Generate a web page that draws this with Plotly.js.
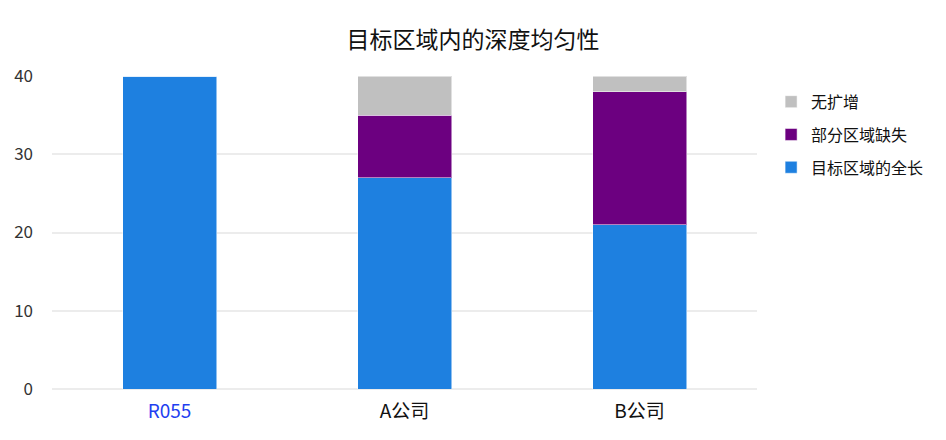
<!DOCTYPE html>
<html><head><meta charset="utf-8">
<script src="https://cdn.plot.ly/plotly-3.0.1.min.js"></script>
<style>html,body{margin:0;padding:0;background:#fff}#chart{width:946px;height:440px}</style>
</head><body><div id="chart"></div>
<script>
const categories = ['R055', 'A公司', 'B公司'];
const fullLength = [40, 27, 21];
const partialMissing = [0, 8, 17];
const noAmplification = [0, 5, 2];
const seriesNames = ['目标区域的全长', '部分区域缺失', '无扩增'];
const tickLabels = ['<span style="color:#1f3ff0">R055</span>', 'A公司', 'B公司'];

const lineStyle = {color: 'rgba(255,255,255,0.5)', width: 1};
const traces = [
  {type: 'bar', name: seriesNames[0], legendgroup: 'g1', legendrank: 3, x: categories, y: fullLength, marker: {color: '#1e80e0', line: lineStyle}},
  {type: 'bar', name: seriesNames[1], legendgroup: 'g2', legendrank: 2, x: categories, y: partialMissing, marker: {color: '#6c0080', line: lineStyle}},
  {type: 'bar', name: seriesNames[2], legendgroup: 'g3', legendrank: 1, x: categories, y: noAmplification, marker: {color: '#c0c0c0', line: lineStyle}}
];
const font = '"Noto Sans CJK SC", "Noto Sans", sans-serif';
const layout = {
  width: 946, height: 440,
  margin: {l: 52, r: 189, t: 76, b: 51},
  barmode: 'stack', bargap: 0.6,
  paper_bgcolor: '#fff', plot_bgcolor: '#fff',
  font: {family: font, color: '#111'},
  title: {text: '目标区域内的深度均匀性', x: 0.5, xanchor: 'center', y: 0.91, yanchor: 'middle', font: {size: 23, color: '#111', family: font}},
  xaxis: {tickvals: categories, ticktext: tickLabels, tickfont: {size: 19, color: '#111'}, showgrid: false, zeroline: false, showline: false, ticks: '', ticklabelstandoff: 9},
  yaxis: {range: [0, 40], dtick: 10, gridcolor: '#ececec', gridwidth: 1.5, zeroline: true, zerolinecolor: '#ececec', zerolinewidth: 1.5, tickfont: {size: 17, color: '#333'}, ticks: '', ticklabelstandoff: 18},
  legend: {x: 1.02, y: 0.972, xanchor: 'left', yanchor: 'top', traceorder: 'grouped', font: {size: 16, color: '#111'}, tracegroupgap: 9, itemwidth: 30},
  showlegend: true
};
Plotly.newPlot('chart', traces, layout, {displayModeBar: false});
</script></body></html>
